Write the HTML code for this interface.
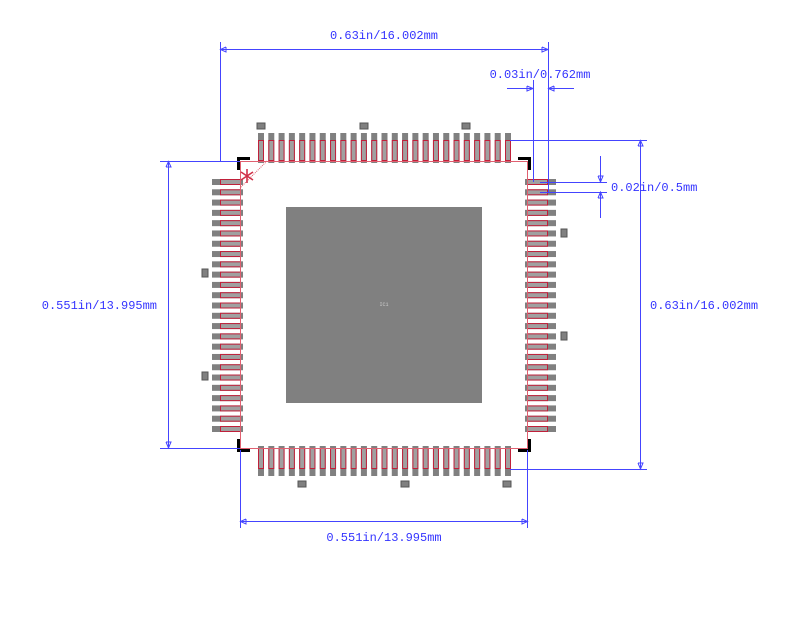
<!DOCTYPE html>
<html><head><meta charset="utf-8"><style>
html,body{margin:0;padding:0;background:#fff;width:800px;height:625px;overflow:hidden}
svg{display:block}
text{font-family:"Liberation Mono",monospace;font-size:12px;fill:#3333ff}
</style></head><body>
<svg id="s" width="800" height="625" viewBox="0 0 800 625" xmlns="http://www.w3.org/2000/svg">
<g id="pads"></g>
<rect x="286" y="207" width="196" height="196" fill="#808080"/>
<text x="384" y="306" style="font-size:5px;fill:#ccc" text-anchor="middle">IC1</text>
<g stroke="#e06070" stroke-width="1" fill="none">
<line x1="240" y1="161.5" x2="528" y2="161.5"/>
<line x1="240" y1="448.5" x2="528" y2="448.5"/>
<line x1="240.5" y1="161" x2="240.5" y2="448"/>
<line x1="527.5" y1="161" x2="527.5" y2="448"/>
<line x1="267" y1="161" x2="240" y2="188" stroke-dasharray="1,1"/>
</g>
<g stroke="#d03048" stroke-width="1.6" fill="none">
<line x1="247" y1="169" x2="247" y2="183"/>
<line x1="241" y1="172" x2="253" y2="180"/>
<line x1="253" y1="172" x2="241" y2="180"/>
</g>
<g stroke="#000" stroke-width="3" fill="none">
<polyline points="250,158.5 238.5,158.5 238.5,170"/>
<polyline points="518,158.5 529.5,158.5 529.5,170"/>
<polyline points="238.5,439 238.5,450.5 250,450.5"/>
<polyline points="529.5,439 529.5,450.5 518,450.5"/>
</g>
<g stroke="#4444ff" stroke-width="1" fill="none">
<line x1="220" y1="49.5" x2="548" y2="49.5"/>
<line x1="220.5" y1="42" x2="220.5" y2="161"/>
<line x1="548.5" y1="42" x2="548.5" y2="192"/>
<polyline points="226,47 220.5,49.5 226,52 226,47"/>
<polyline points="542,47 548,49.5 542,52 542,47"/>
<line x1="533.5" y1="80" x2="533.5" y2="182"/>
<line x1="507" y1="88.5" x2="533" y2="88.5"/>
<line x1="548" y1="88.5" x2="574" y2="88.5"/>
<polyline points="527,86 533,88.5 527,91 527,86"/>
<polyline points="554,86 548.5,88.5 554,91 554,86"/>
<line x1="540" y1="182.5" x2="607" y2="182.5"/>
<line x1="540" y1="192.5" x2="607" y2="192.5"/>
<line x1="600.5" y1="156" x2="600.5" y2="182"/>
<line x1="600.5" y1="192" x2="600.5" y2="218"/>
<polyline points="598,176 600.5,182 603,176 598,176"/>
<polyline points="598,198 600.5,192 603,198 598,198"/>
<line x1="510" y1="140.5" x2="647" y2="140.5"/>
<line x1="510" y1="469.5" x2="647" y2="469.5"/>
<line x1="640.5" y1="140" x2="640.5" y2="469"/>
<polyline points="638,146 640.5,140.5 643,146 638,146"/>
<polyline points="638,463 640.5,469 643,463 638,463"/>
<line x1="160" y1="161.5" x2="240" y2="161.5"/>
<line x1="160" y1="448.5" x2="240" y2="448.5"/>
<line x1="168.5" y1="161" x2="168.5" y2="448"/>
<polyline points="166,167 168.5,161.5 171,167 166,167"/>
<polyline points="166,442 168.5,448 171,442 166,442"/>
<line x1="240.5" y1="450" x2="240.5" y2="528"/>
<line x1="527.5" y1="450" x2="527.5" y2="528"/>
<line x1="240" y1="521.5" x2="528" y2="521.5"/>
<polyline points="246,519 240.5,521.5 246,524 246,519"/>
<polyline points="522,519 527.5,521.5 522,524 522,519"/>
</g>
<text x="384" y="39" text-anchor="middle">0.63in/16.002mm</text>
<text x="540" y="78" text-anchor="middle">0.03in/0.762mm</text>
<text x="611" y="191">0.02in/0.5mm</text>
<text x="650" y="309">0.63in/16.002mm</text>
<text x="157" y="309" text-anchor="end">0.551in/13.995mm</text>
<text x="384" y="541" text-anchor="middle">0.551in/13.995mm</text>
</svg>
<script>
var g=document.getElementById('pads'),h='';
function r(x,y,w,ht,f,s){h+='<rect x="'+x+'" y="'+y+'" width="'+w+'" height="'+ht+'" fill="'+f+'"'+(s?' stroke="'+s+'" stroke-width="1"':'')+'/>';}
var p=247/24;
for(var i=0;i<25;i++){
 var x=258+i*p;
 r(x,133,6,30,'#808080');r(x+0.5,140.5,5,20,'#a0a0a0','#c0203a');
 r(x,446,6,30,'#808080');r(x+0.5,448.5,5,20,'#a0a0a0','#c0203a');
 var y=179+i*p;
 r(212,y,31,6,'#808080');r(220.5,y+0.5,20,5,'#a0a0a0','#c0203a');
 r(525,y,31,6,'#808080');r(527.5,y+0.5,20,5,'#a0a0a0','#c0203a');
}
[[257,123,8,6],[360,123,8,6],[462,123,8,6],[298,481,8,6],[401,481,8,6],[503,481,8,6],[202,269,6,8],[202,372,6,8],[561,229,6,8],[561,332,6,8]].forEach(function(a){r(a[0],a[1],a[2],a[3],'#808080','#555');});
g.innerHTML=h;
</script>
</body></html>
